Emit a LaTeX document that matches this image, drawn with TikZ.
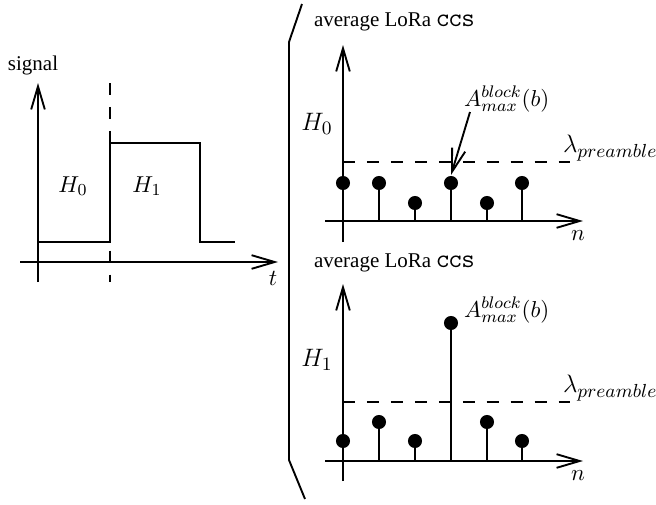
\documentclass[tikz,border=0pt]{standalone}
\usepackage{fontspec}
\setmainfont{Liberation Serif}
\usetikzlibrary{arrows.meta}
\begin{document}
\begin{tikzpicture}[x=0.476pt,y=-0.476pt,line width=0.9pt,
  arr/.style={-{Straight Barb[length=11pt,width=6.5pt,line width=0.9pt]}},
  dot/.style={circle,fill,draw=none,inner sep=0pt,minimum size=6.7pt},
  dsh/.style={dash pattern=on 5.7pt off 5.7pt},
  lbl/.style={inner sep=1pt},
  mth/.style={inner sep=1pt,font=\fontsize{11.3}{13}\selectfont},
  lam/.style={inner sep=1pt,font=\fontsize{12.3}{14}\selectfont},
  bigm/.style={inner sep=1pt,font=\fontsize{12.5}{15}\selectfont}]
\useasboundingbox (0,0) rectangle (656,504);
\newcommand{\ccsword}{{\fontsize{11.5}{13}\selectfont\ttfamily\scshape ccs}}

% ---------- left panel ----------
\coordinate (sy0) at (38,282);
\coordinate (sy1) at (38,83);
\draw[arr] (sy0) -- (sy1);
\node[lbl] (sig) at (33,65) {signal};
\coordinate (st0) at (20,262);
\coordinate (st1) at (278,262);
\draw[arr] (st0) -- (st1);
\node[mth] (tlab) at (273,278) {$t$};
\coordinate (dv0) at (110,83);
\coordinate (dv1) at (110,282);
\draw[dsh] (dv0) -- (dv1);
\coordinate (p0) at (38,242);
\coordinate (p1) at (110,242);
\coordinate (p2) at (110,143);
\coordinate (p3) at (200,143);
\coordinate (p4) at (200,242);
\coordinate (p5) at (235,242);
\draw (p0) -- (p1) -- (p2) -- (p3) -- (p4) -- (p5);
\node[mth] (lh0) at (73,186) {$H_0$};
\node[mth] (lh1) at (147,186) {$H_1$};

% ---------- bracket ----------
\coordinate (b0) at (302,4);
\coordinate (b1) at (289,42);
\coordinate (b2) at (289,460);
\coordinate (b3) at (305,499);
\draw (b0) -- (b1) -- (b2) -- (b3);

% ---------- top right plot ----------
\node[lbl,anchor=west] (avgA) at (311,22) {average LoRa \ccsword};
\coordinate (ay0) at (343,242);
\coordinate (ay1) at (343,45);
\draw[arr] (ay0) -- (ay1);
\coordinate (an0) at (325,221);
\coordinate (an1) at (583,221);
\draw[arr] (an0) -- (an1);
\node[mth] (nA) at (578,236) {$n$};
\node[bigm] (hA) at (317,124) {$H_0$};
\coordinate (la0) at (343,162);
\coordinate (la1) at (570,162);
\draw[dsh] (la0) -- (la1);
\node[lam,anchor=west] (lamA) at (560,148) {$\lambda_{preamble}$};
\foreach \i/\x/\y in {1/343/183,2/379/183,3/415/203,4/451/183,5/487/203,6/522/183}{
  \node[dot] (dA\i) at (\x,\y) {};
  \coordinate (sA\i) at (\x,221);
  \draw (sA\i) -- (dA\i.center);
}
\node[mth,anchor=west] (maxA) at (461,99) {$A^{block}_{max}(b)$};
\coordinate (mA) at (470,112);
\draw[arr] (mA) -- (dA4.north);

% ---------- bottom right plot ----------
\node[lbl,anchor=west] (avgB) at (311,263) {average LoRa \ccsword};
\coordinate (by0) at (343,481);
\coordinate (by1) at (343,284);
\draw[arr] (by0) -- (by1);
\coordinate (bn0) at (325,461);
\coordinate (bn1) at (583,461);
\draw[arr] (bn0) -- (bn1);
\node[mth] (nB) at (578,476) {$n$};
\node[bigm] (hB) at (317,360) {$H_1$};
\coordinate (lb0) at (343,402);
\coordinate (lb1) at (570,402);
\draw[dsh] (lb0) -- (lb1);
\node[lam,anchor=west] (lamB) at (560,388) {$\lambda_{preamble}$};
\foreach \i/\x/\y in {1/343/441,2/379/422,3/415/441,4/451/323,5/487/422,6/522/441}{
  \node[dot] (dB\i) at (\x,\y) {};
  \coordinate (sB\i) at (\x,461);
  \draw (sB\i) -- (dB\i.center);
}
\node[mth,anchor=west] (maxB) at (461,310) {$A^{block}_{max}(b)$};
\end{tikzpicture}
\end{document}
